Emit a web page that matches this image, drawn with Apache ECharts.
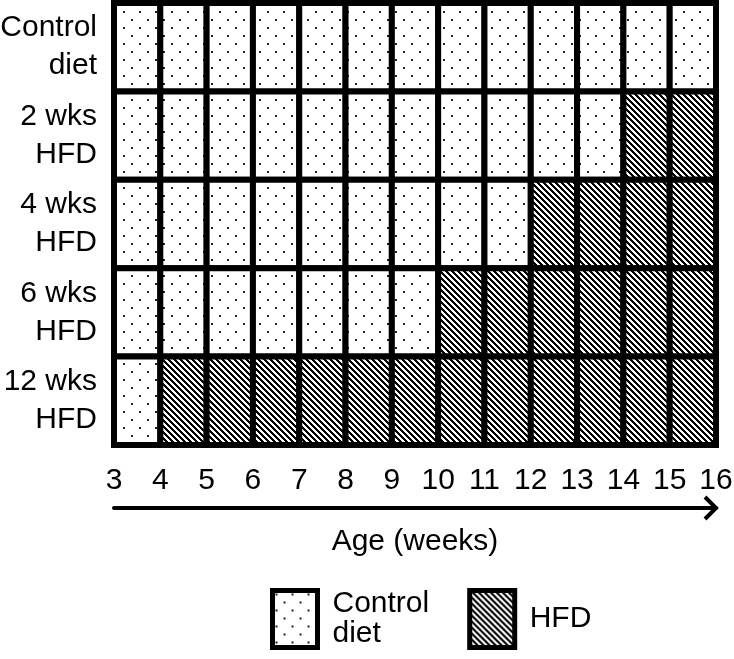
<!DOCTYPE html>
<html>
<head>
<meta charset="utf-8">
<script src="https://cdn.jsdelivr.net/npm/echarts@6/dist/echarts.min.js"></script>
<style>
  html, body { margin: 0; padding: 0; background: #fff; }
  #chart { width: 734px; height: 659px; }
</style>
</head>
<body>
<div id="chart"></div>
<script>
// rows, top to bottom
const rowLabels = ['Control diet', '2 wks HFD', '4 wks HFD', '6 wks HFD', '12 wks HFD'];
// week at which the HFD starts in each row (16 = never)
const hfdStartWeek = [16, 14, 12, 10, 4];
const ageTicks = [3, 4, 5, 6, 7, 8, 9, 10, 11, 12, 13, 14, 15, 16];

const FONT = '"Liberation Sans", Arial, sans-serif';
const ARROW_OFFSET = 63;

// fill patterns
function dotPattern() {
  const c = document.createElement('canvas');
  c.width = 16; c.height = 16;
  const ctx = c.getContext('2d');
  ctx.fillStyle = '#fff';
  ctx.fillRect(0, 0, 16, 16);
  ctx.fillStyle = '#222';
  ctx.fillRect(3, 3, 2, 2);
  ctx.fillRect(11, 11, 2, 2);
  return { image: c, repeat: 'repeat' };
}
function hatchPattern() {
  const n = 6;
  const c = document.createElement('canvas');
  c.width = n; c.height = n;
  const ctx = c.getContext('2d');
  ctx.fillStyle = '#fff';
  ctx.fillRect(0, 0, n, n);
  ctx.fillStyle = '#000';
  for (let y = 0; y < n; y++) {
    for (let x = 0; x < n; x++) {
      if ((x - y + n) % n < 3) ctx.fillRect(x, y, 1, 1);
    }
  }
  return { image: c, repeat: 'repeat' };
}
const dots = dotPattern();
const hatch = hatchPattern();

// build cells [weekFrom, weekTo, rowIndex]
const controlCells = [];
const hfdCells = [];
for (let r = 0; r < rowLabels.length; r++) {
  for (let i = 0; i < ageTicks.length - 1; i++) {
    const cell = [ageTicks[i], ageTicks[i + 1], r];
    if (ageTicks[i] < hfdStartWeek[r]) controlCells.push(cell);
    else hfdCells.push(cell);
  }
}

function cellRenderer(fill) {
  return function (params, api) {
    const p0 = api.coord([api.value(0), api.value(2)]);
    const p1 = api.coord([api.value(1), api.value(2)]);
    const h = api.size([0, 1])[1];
    return {
      type: 'rect',
      shape: { x: p0[0], y: p0[1] - h / 2, width: p1[0] - p0[0], height: h },
      style: { fill: fill, stroke: '#000', lineWidth: 6 }
    };
  };
}

const chart = echarts.init(document.getElementById('chart'));
chart.setOption({
  animation: false,
  backgroundColor: '#fff',
  textStyle: { fontFamily: FONT },
  grid: { left: 114, right: 18, top: 3, bottom: 214, outerBoundsMode: 'none', containLabel: false },
  xAxis: [
    {
      type: 'value',
      min: 3,
      max: 16,
      interval: 1,
      axisLine: { show: false },
      axisTick: { show: false },
      splitLine: { show: false },
      axisLabel: { color: '#000', fontSize: 30, fontFamily: FONT, margin: 21 }
    },
    {
      type: 'value',
      min: 3,
      max: 16,
      position: 'bottom',
      offset: ARROW_OFFSET,
      name: 'Age (weeks)',
      nameLocation: 'middle',
      nameGap: 19,
      nameTextStyle: { color: '#000', fontSize: 30, fontFamily: FONT },
      axisLine: { show: true, lineStyle: { color: '#000', width: 4 } },
      axisTick: { show: false },
      axisLabel: { show: false },
      splitLine: { show: false }
    }
  ],
  yAxis: {
    type: 'category',
    data: rowLabels,
    inverse: true,
    axisLine: { show: false },
    axisTick: { show: false },
    splitLine: { show: false },
    axisLabel: {
      color: '#000',
      fontSize: 30,
      fontFamily: FONT,
      lineHeight: 38,
      margin: 17,
      formatter: function (v) {
        const k = v.lastIndexOf(' ');
        return v.slice(0, k) + '\n' + v.slice(k + 1);
      }
    }
  },
  legend: {
    left: 265,
    top: 583,
    itemWidth: 45,
    itemHeight: 57,
    itemGap: 38,
    selectedMode: false,
    formatter: function (name) {
      return name.replace(' ', '\n');
    },
    textStyle: { color: '#000', fontSize: 30, fontFamily: FONT, lineHeight: 30, padding: [0, 0, 0, 10] },
    data: [
      { name: 'Control diet', icon: 'rect', itemStyle: { color: dots, borderColor: '#000', borderWidth: 5 } },
      { name: 'HFD', icon: 'rect', itemStyle: { color: hatch, borderColor: '#000', borderWidth: 5 } }
    ]
  },
  series: [
    {
      name: 'Control diet',
      type: 'custom',
      xAxisIndex: 0,
      renderItem: cellRenderer(dots),
      encode: { x: [0, 1], y: 2 },
      data: controlCells
    },
    {
      name: 'HFD',
      type: 'custom',
      xAxisIndex: 0,
      renderItem: cellRenderer(hatch),
      encode: { x: [0, 1], y: 2 },
      data: hfdCells
    }
  ]
});

// open arrow head at the end of the age axis
const tipX = chart.convertToPixel({ xAxisIndex: 1 }, ageTicks[ageTicks.length - 1]);
const baseY = chart.convertToPixel({ yAxisIndex: 0 }, rowLabels[rowLabels.length - 1]) +
  chart.getModel().getComponent('grid').coordinateSystem.getRect().height / rowLabels.length / 2;
const tipY = baseY + ARROW_OFFSET;
chart.setOption({
  graphic: [{
    type: 'polyline',
    shape: { points: [[tipX - 11, tipY - 11], [tipX, tipY], [tipX - 11, tipY + 11]] },
    style: { stroke: '#000', lineWidth: 4, fill: null, lineJoin: 'miter' },
    z: 10
  }]
});
</script>
</body>
</html>
